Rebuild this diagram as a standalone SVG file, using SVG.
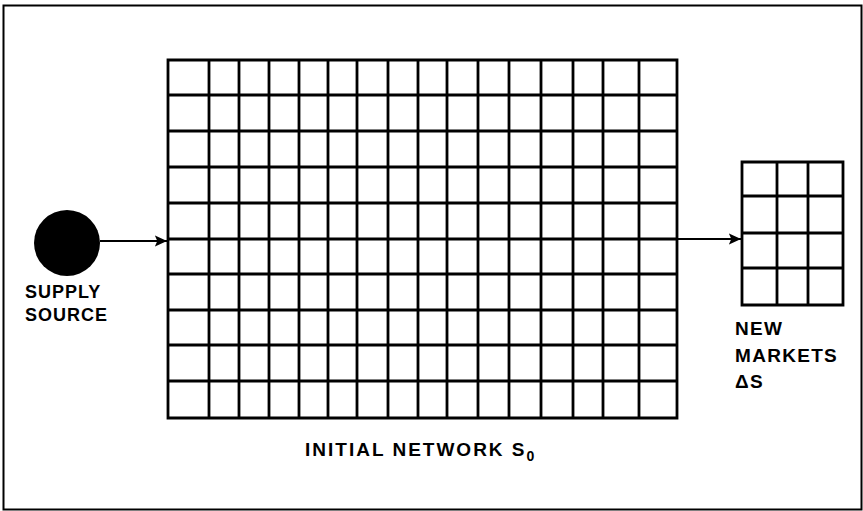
<svg xmlns="http://www.w3.org/2000/svg" width="863" height="511" viewBox="0 0 863 511">
<style>
.g{fill:none;stroke:#000;stroke-width:2.8}
.t{font-family:"Liberation Sans",Arial,sans-serif;font-weight:bold;font-size:18px;letter-spacing:1px;fill:#000}
.m{font-size:19px;letter-spacing:1.3px}
.n{font-size:19px;letter-spacing:2px}
.c{stroke:#000;stroke-width:2.2;fill:none}
</style>
<defs>
<marker id="ah" viewBox="0 0 10 10" refX="10" refY="5" markerWidth="5.5" markerHeight="5.5" orient="auto" markerUnits="strokeWidth">
<path d="M0,0.5 L10,5 L0,9.5 L2,5 Z" fill="#000"/>
</marker>
</defs>
<rect x="3.5" y="5.5" width="858" height="504" fill="none" stroke="#000" stroke-width="2"/>
<g id="supply">
<circle cx="67" cy="243" r="33" fill="#000"/>
<text class="t" x="25" y="298">SUPPLY</text>
<text class="t" x="25" y="321">SOURCE</text>
</g>
<g id="network">
<path class="g" d="M168,60H677V418H168Z M209,60V418 M239,60V418 M269,60V418 M299,60V418 M328,60V418 M357,60V418 M388,60V418 M418,60V418 M447,60V418 M478,60V418 M509,60V418 M541,60V418 M573,60V418 M603,60V418 M639,60V418 M168,95H677 M168,131H677 M168,167H677 M168,203H677 M168,239H677 M168,274H677 M168,310H677 M168,345H677 M168,381H677"/>
<text class="t n" x="305" y="456">INITIAL NETWORK S<tspan font-size="14" dy="5">0</tspan></text>
</g>
<g id="markets">
<path class="g" d="M742,162H843V305H742Z M777,162V305 M808,162V305 M742,196H843 M742,233H843 M742,268H843"/>
<text class="t m" x="735" y="335">NEW</text>
<text class="t m" x="735" y="362">MARKETS</text>
<text class="t m" x="735" y="388">ΔS</text>
</g>
<g id="connectors">
<line class="c" x1="100" y1="241" x2="167" y2="241" marker-end="url(#ah)"/>
<line class="c" x1="677" y1="239" x2="741" y2="239" marker-end="url(#ah)"/>
</g>
</svg>
